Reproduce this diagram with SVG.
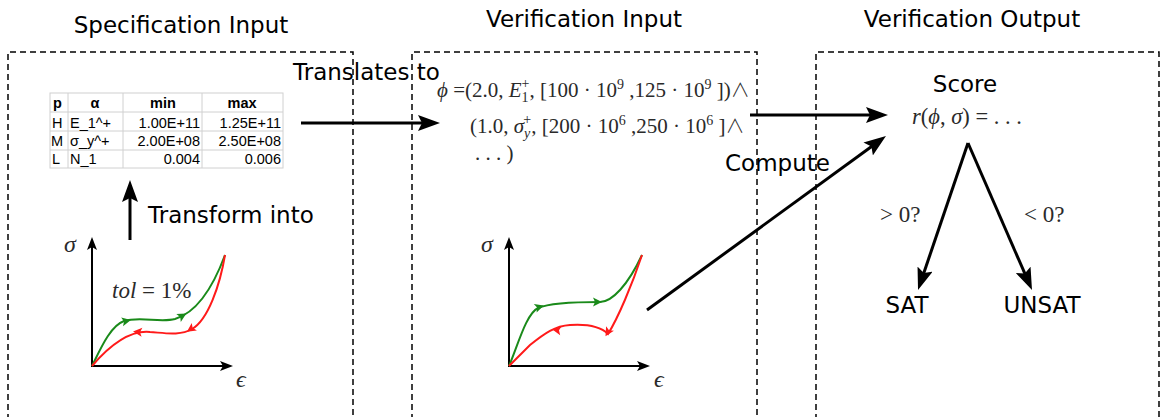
<svg xmlns="http://www.w3.org/2000/svg" width="1161" height="417" viewBox="0 0 1161 417">
<style>
.box{fill:none;stroke:#000;stroke-width:1.5;stroke-dasharray:6,4}
.lbl{font-family:"DejaVu Sans",sans-serif;font-size:23px;fill:#000}
.math{font-family:"Liberation Serif","DejaVu Serif",serif;font-size:21px;fill:#2a2a2a}
.op{font-family:"Noto Sans CJK SC","DejaVu Sans",sans-serif;font-weight:300;font-size:19px}
.it{font-style:italic}
.tb{font-family:"Liberation Sans",Arial,sans-serif;font-size:14.5px;fill:#000}
.grid{stroke:#d0d0d0;stroke-width:1;fill:none}
.arr{stroke:#000;stroke-width:3;fill:none;marker-end:url(#big)}
.axis{stroke:#000;stroke-width:2;fill:none;marker-end:url(#small)}
.g{stroke:#1a8a1a;stroke-width:2;fill:none}
.r{stroke:#ff1a1a;stroke-width:2;fill:none}
</style>
<defs>
<marker id="big" markerUnits="userSpaceOnUse" viewBox="0 0 22 16" refX="14" refY="8" markerWidth="22" markerHeight="16" orient="auto">
<path d="M0,0 L22,8 L0,16 L4,8 Z" fill="#000"/>
</marker>
<marker id="small" markerUnits="userSpaceOnUse" viewBox="0 0 13 10" refX="8" refY="5" markerWidth="13" markerHeight="10" orient="auto">
<path d="M0,0 L13,5 L0,10 L3,5 Z" fill="#000"/>
</marker>
<path id="tri" d="M5,0 L-4,-4.5 L-2,0 L-4,4.5 Z"/>
</defs>

<g id="box-spec"><path class="box" d="M8,430 V52 H353 V430"/></g>
<g id="box-vin"><path class="box" d="M412,430 V52 H757 V430"/></g>
<g id="box-vout"><path class="box" d="M816,430 V52 H1159 V430"/></g>

<g id="title-spec"><text class="lbl" x="181" y="33" text-anchor="middle">Specification Input</text></g>
<g id="title-vin"><text class="lbl" x="584" y="27" text-anchor="middle">Verification Input</text></g>
<g id="title-vout"><text class="lbl" x="972" y="27" text-anchor="middle">Verification Output</text></g>

<g id="table">
<rect x="50" y="93" width="233" height="75" fill="#fff" class="grid"/>
<path class="grid" d="M68,93 V168 M123,93 V168 M202,93 V168 M50,112 H283 M50,131 H283 M50,150 H283"/>
<text class="tb" font-weight="bold" x="53" y="107.5">p</text>
<text class="tb" font-weight="bold" x="95" y="107.5" text-anchor="middle">α</text>
<text class="tb" font-weight="bold" x="163" y="107.5" text-anchor="middle">min</text>
<text class="tb" font-weight="bold" x="242" y="107.5" text-anchor="middle">max</text>
<text class="tb" x="52" y="128">H</text><text class="tb" x="70" y="128">E_1^+</text>
<text class="tb" x="200" y="128" text-anchor="end">1.00E+11</text><text class="tb" x="281" y="128" text-anchor="end">1.25E+11</text>
<text class="tb" x="51" y="146">M</text><text class="tb" x="70" y="146">σ_y^+</text>
<text class="tb" x="200" y="146" text-anchor="end">2.00E+08</text><text class="tb" x="281" y="146" text-anchor="end">2.50E+08</text>
<text class="tb" x="52" y="164">L</text><text class="tb" x="70" y="164">N_1</text>
<text class="tb" x="200" y="164" text-anchor="end">0.004</text><text class="tb" x="281" y="164" text-anchor="end">0.006</text>
</g>

<g id="graph-spec">
<path class="axis" d="M92,367 V242"/>
<path class="axis" d="M91,366 H228"/>
<text class="math it" style="font-size:24px" x="64" y="252">σ</text>
<text class="math it" style="font-size:24px" x="236" y="387">ϵ</text>
<text class="math" style="font-size:23px" x="112" y="298"><tspan class="it">tol</tspan> = 1%</text>
<path class="g" d="M92,366 C100,350 110,326 124,321 C140,316 160,323 175,319 C195,313 212,290 225,255"/>
<path class="r" d="M225,255 C220,285 208,320 192,329 C180,336 165,333 150,332 C130,330 110,345 92,366"/>
<use href="#tri" fill="#1a8a1a" transform="translate(126,321) rotate(-12)"/>
<use href="#tri" fill="#1a8a1a" transform="translate(182,316) rotate(-30)"/>
<use href="#tri" fill="#ff1a1a" transform="translate(138,332) rotate(185)"/>
<use href="#tri" fill="#ff1a1a" transform="translate(191,329) rotate(145)"/>
</g>

<g id="formula">
<text class="math" x="437" y="97"><tspan class="it">ϕ</tspan> =(2.0, <tspan class="it">E</tspan><tspan font-size="14" dy="5">1</tspan><tspan font-size="14" dx="-7" dy="-14">+</tspan><tspan dy="9">, [100 · 10</tspan><tspan font-size="14" dy="-8">9</tspan><tspan dy="8"> ,125 · 10</tspan><tspan font-size="14" dy="-8">9</tspan><tspan dy="8"> ])</tspan><tspan class="op">∧</tspan></text>
<text class="math" x="470" y="133">(1.0, <tspan class="it">σ</tspan><tspan class="it" font-size="14" dy="5">y</tspan><tspan font-size="14" dx="-7" dy="-14">+</tspan><tspan dy="9">, [200 · 10</tspan><tspan font-size="14" dy="-8">6</tspan><tspan dy="8"> ,250 · 10</tspan><tspan font-size="14" dy="-8">6</tspan><tspan dy="8"> ]</tspan><tspan class="op">∧</tspan></text>
<text class="math" x="475" y="160">. . . )</text>
</g>

<g id="graph-vin">
<path class="axis" d="M509,367 V242"/>
<path class="axis" d="M508,366 H645"/>
<text class="math it" style="font-size:24px" x="481" y="252">σ</text>
<text class="math it" style="font-size:24px" x="654" y="387">ϵ</text>
<path class="g" d="M509,366 C518,345 526,314 538,308 C552,302 585,302 600,302 C612,302 628,285 642,255"/>
<path class="r" d="M642,255 C632,285 618,318 608,334 C600,326 585,324 570,325 C555,326 545,333 530,345 L509,366"/>
<use href="#tri" fill="#1a8a1a" transform="translate(539,307) rotate(-18)"/>
<use href="#tri" fill="#1a8a1a" transform="translate(597,302) rotate(0)"/>
<use href="#tri" fill="#ff1a1a" transform="translate(557,330) rotate(190)"/>
<use href="#tri" fill="#ff1a1a" transform="translate(608,332) rotate(120)"/>
</g>

<g id="score">
<text class="lbl" x="965" y="92" text-anchor="middle">Score</text>
<text class="math" style="font-size:22.5px" x="912" y="124"><tspan class="it">r</tspan>(<tspan class="it">ϕ</tspan>, <tspan class="it">σ</tspan>) = . . .</text>
</g>
<g id="sat"><text class="lbl" x="907" y="313" text-anchor="middle">SAT</text></g>
<g id="unsat"><text class="lbl" x="1042" y="313" text-anchor="middle">UNSAT</text></g>

<g id="connectors">
<path class="arr" d="M301,123 H432"/>
<path class="arr" d="M130,240 V188"/>
<path class="arr" d="M647,310 L879.5,140.7"/>
<path class="arr" d="M750,115 H880"/>
<path class="arr" d="M968,143 L920.6,282.4"/>
<path class="arr" d="M968,143 L1028.8,282.7"/>
<text class="lbl" x="293" y="80">Translates to</text>
<text class="lbl" x="148" y="223">Transform into</text>
<text class="lbl" x="725" y="171">Compute</text>
<text class="math" style="font-size:23px" x="880" y="222">&gt; 0?</text>
<text class="math" style="font-size:23px" x="1024" y="222">&lt; 0?</text>
</g>
</svg>
